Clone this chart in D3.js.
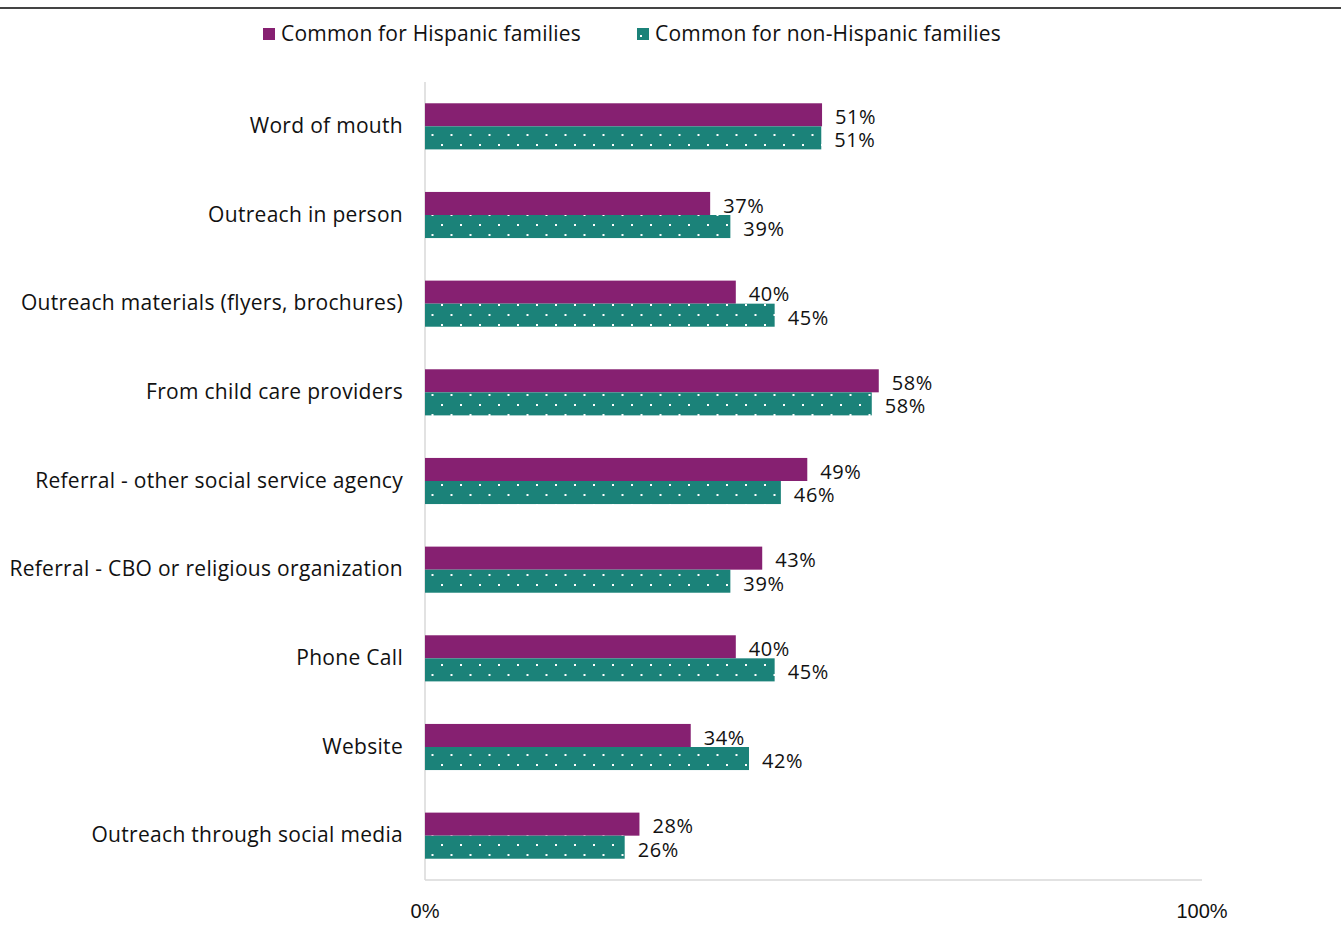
<!DOCTYPE html>
<html>
<head>
<meta charset="utf-8">
<script src="https://cdn.jsdelivr.net/npm/d3@7"></script>
<style>
  body { margin: 0; background: #fff; }
  svg text { font-family: "Open Sans", "Noto Sans", sans-serif; fill: #111; }
</style>
</head>
<body>
<svg id="chart" width="1341" height="930"></svg>
<script>
// chart data
const categories = [
    'Word of mouth',
    'Outreach in person',
    'Outreach materials (flyers, brochures)',
    'From child care providers',
    'Referral - other social service agency',
    'Referral - CBO or religious organization',
    'Phone Call',
    'Website',
    'Outreach through social media'
];
const hispanic = [51.1, 36.7, 40.0, 58.4, 49.2, 43.4, 40.0, 34.2, 27.6];
const nonHispanic = [51.0, 39.3, 45.0, 57.5, 45.8, 39.3, 45.0, 41.7, 25.7];
const seriesNames = ['Common for Hispanic families', 'Common for non-Hispanic families'];
const xTicks = [0, 100];

const PURPLE = '#862071';
const TEAL = '#1b8279';

var svg = d3.select('#chart');

// dotted fill for the second series
var defs = svg.append('defs');
var pat = defs.append('pattern')
    .attr('id', 'dots')
    .attr('patternUnits', 'userSpaceOnUse')
    .attr('width', 19)
    .attr('height', 20)
    .attr('x', 4)
    .attr('y', 4);
pat.append('rect').attr('width', 19).attr('height', 20).attr('fill', TEAL);
pat.append('rect').attr('x', 0).attr('y', 0).attr('width', 2).attr('height', 2).attr('fill', '#fff');
pat.append('rect').attr('x', 9.5).attr('y', 10).attr('width', 2).attr('height', 2).attr('fill', '#fff');

// top rule
svg.append('line')
    .attr('x1', 0).attr('x2', 1341)
    .attr('y1', 8).attr('y2', 8)
    .attr('stroke', '#444')
    .attr('stroke-width', 2);

var x = d3.scaleLinear().domain([0, 100]).range([425, 1202]);
var y = d3.scaleBand().domain(categories).range([82, 880]).paddingInner(0.48).paddingOuter(0.24);
var sub = d3.scaleBand().domain([0, 1]).range([0, y.bandwidth()]);

// axis lines
svg.append('line')
    .attr('x1', x(0)).attr('x2', x(0))
    .attr('y1', 82).attr('y2', 880)
    .attr('stroke', '#d9d9d9').attr('stroke-width', 1.5);
svg.append('line')
    .attr('x1', x(0)).attr('x2', x(100))
    .attr('y1', 880).attr('y2', 880)
    .attr('stroke', '#d9d9d9').attr('stroke-width', 1.5);

// tick labels
svg.selectAll('.tick-label')
    .data(xTicks)
    .enter()
    .append('text')
    .attr('class', 'tick-label')
    .attr('x', d => x(d))
    .attr('y', 913)
    .attr('text-anchor', 'middle')
    .attr('dominant-baseline', 'middle')
    .style('font-family', '"Liberation Sans", Arial, sans-serif')
    .style('font-size', '20px')
    .text(d => d + '%');

// category labels
svg.selectAll('.cat')
    .data(categories)
    .enter()
    .append('text')
    .attr('class', 'cat')
    .attr('x', 403)
    .attr('y', d => y(d) + y.bandwidth() / 2 + 1)
    .attr('text-anchor', 'end')
    .attr('dominant-baseline', 'middle')
    .style('font-size', '21px')
    .style('letter-spacing', '0.3px')
    .text(d => d);

var groups = [hispanic, nonHispanic];
var fills = [PURPLE, 'url(#dots)'];

groups.forEach(function (vals, s) {
    svg.selectAll('.bar' + s)
        .data(vals)
        .enter()
        .append('rect')
        .attr('class', 'bar' + s)
        .attr('x', x(0))
        .attr('y', (d, i) => y(categories[i]) + sub(s))
        .attr('width', d => x(d) - x(0))
        .attr('height', sub.bandwidth())
        .attr('fill', fills[s]);

    svg.selectAll('.val' + s)
        .data(vals)
        .enter()
        .append('text')
        .attr('class', 'val' + s)
        .attr('x', d => x(d) + 13)
        .attr('y', (d, i) => y(categories[i]) + sub(s) + sub.bandwidth() / 2 + 4)
        .attr('dominant-baseline', 'middle')
        .style('font-size', '20px')
        .style('letter-spacing', '0.6px')
        .text(d => Math.round(d) + '%');
});

// legend
var legend = svg.append('g');
var legX = [263, 637];
seriesNames.forEach(function (name, s) {
    legend.append('rect')
        .attr('x', legX[s]).attr('y', 28)
        .attr('width', 12).attr('height', 12)
        .attr('fill', s == 0 ? PURPLE : TEAL);
    if (s == 1) {
        legend.append('rect')
            .attr('x', legX[s] + 3).attr('y', 35)
            .attr('width', 2).attr('height', 2)
            .attr('fill', '#fff');
    }
    legend.append('text')
        .attr('x', legX[s] + 18)
        .attr('y', 35)
        .attr('dominant-baseline', 'middle')
        .style('font-size', '21px')
        .style('letter-spacing', '0.2px')
        .text(name);
});
</script>
</body>
</html>
